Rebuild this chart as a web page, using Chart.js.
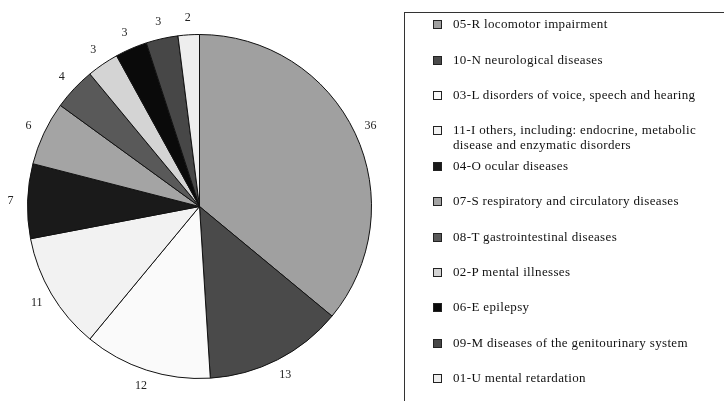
<!DOCTYPE html>
<html>
<head>
<meta charset="utf-8">
<script src="https://cdn.jsdelivr.net/npm/chart.js@4"></script>
<style>
  html, body { margin: 0; padding: 0; background: #fff; }
  #wrap { position: relative; width: 724px; height: 401px; overflow: hidden; }
  #myChart { position: absolute; left: 0; top: 0; }
  #legend {
    position: absolute; left: 404px; top: 12px; width: 330px; height: 400px;
    border: 1px solid #333; box-sizing: border-box;
    font-family: "Liberation Serif", "DejaVu Serif", serif; font-size: 13px; letter-spacing: 0.35px; color: #111;
  }
  .item { position: absolute; left: 28px; line-height: 15px; }
  .box { position: absolute; left: 0; top: 4px; width: 7px; height: 7px; border: 1px solid #222; box-sizing: content-box; }
  .txt { position: absolute; left: 20px; top: 0; white-space: nowrap; }
</style>
</head>
<body>
<div id="wrap">
  <canvas id="myChart" width="724" height="401"></canvas>
  <div id="legend"></div>
</div>
<script>
const categories = [
  '05-R locomotor impairment',
  '10-N neurological diseases',
  '03-L disorders of voice, speech and hearing',
  ['11-I others, including: endocrine, metabolic', 'disease and enzymatic disorders'],
  '04-O ocular diseases',
  '07-S respiratory and circulatory diseases',
  '08-T gastrointestinal diseases',
  '02-P mental illnesses',
  '06-E epilepsy',
  '09-M diseases of the genitourinary system',
  '01-U mental retardation'
];
const values = [36, 13, 12, 11, 7, 6, 4, 3, 3, 3, 2];
const colors = ['#a0a0a0', '#4a4a4a', '#fafafa', '#f2f2f2', '#1a1a1a', '#a4a4a4',
                '#595959', '#d4d4d4', '#0a0a0a', '#474747', '#eeeeee'];

// numbers written just outside each slice
const outsideLabels = {
  id: 'outsideLabels',
  afterDatasetsDraw(chart) {
    const ctx = chart.ctx;
    const meta = chart.getDatasetMeta(0);
    ctx.save();
    ctx.font = '12px "Liberation Serif", serif';
    ctx.fillStyle = '#222';
    ctx.textAlign = 'center';
    ctx.textBaseline = 'middle';
    meta.data.forEach(function(arc, i) {
      const a = (arc.startAngle + arc.endAngle) / 2;
      const r = arc.outerRadius + 17;
      ctx.fillText(String(values[i]), arc.x + Math.cos(a) * r, arc.y + Math.sin(a) * r);
    });
    ctx.restore();
  }
};

new Chart(document.getElementById('myChart'), {
  type: 'pie',
  data: {
    labels: categories,
    datasets: [{
      data: values,
      backgroundColor: colors,
      borderColor: '#111',
      borderWidth: 1
    }]
  },
  options: {
    responsive: false,
    animation: false,
    layout: { padding: { left: 27, right: 352, top: 34, bottom: 22 } },
    plugins: {
      legend: { display: false },
      tooltip: { enabled: false }
    }
  },
  plugins: [outsideLabels]
});

// html legend
const legend = document.getElementById('legend');
categories.forEach(function(label, i) {
  const item = document.createElement('div');
  item.className = 'item';
  item.style.top = (22.7 + i * 35.4 - 12 - 7.5) + 'px';
  const box = document.createElement('div');
  box.className = 'box';
  box.style.background = colors[i];
  const txt = document.createElement('div');
  txt.className = 'txt';
  txt.innerHTML = [].concat(label).join('<br>');
  item.appendChild(box);
  item.appendChild(txt);
  legend.appendChild(item);
});
</script>
</body>
</html>
